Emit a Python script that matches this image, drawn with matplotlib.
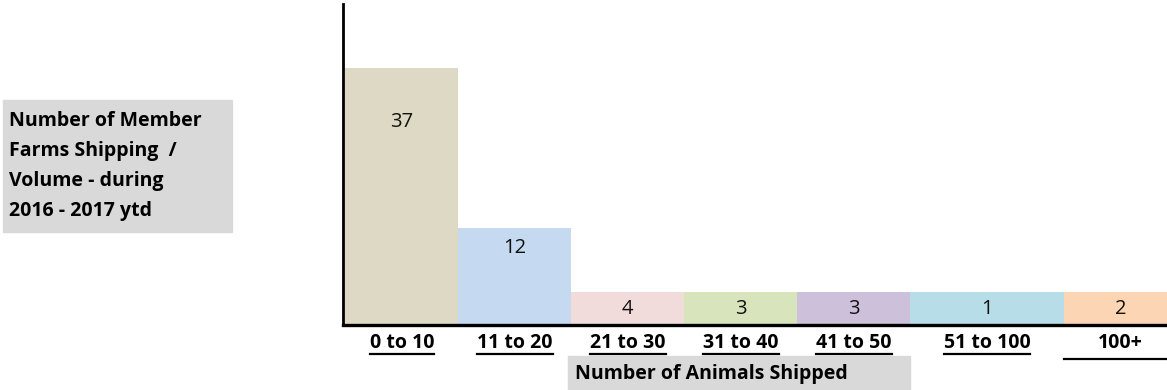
import matplotlib
matplotlib.use("Agg")
import matplotlib.pyplot as plt
from matplotlib.patches import Rectangle
from matplotlib.lines import Line2D

W, H = 1167, 390

ranges = ["0 to 10", "11 to 20", "21 to 30", "31 to 40", "41 to 50", "51 to 100", "100+"]
farms = [37, 12, 4, 3, 3, 1, 2]
# the reference draws the short bars at a common minimum height
bar_heights = [37, 14, 4.75, 4.75, 4.75, 4.75, 4.75]
bar_widths = [1, 1, 1, 1, 1, 1.36, 1]
colors = ["#ddd9c4", "#c5d9f1", "#f2dcdb", "#d8e4bc", "#ccc0da", "#b7dee8", "#fcd5b4"]

side_title = "Number of Member\nFarms Shipping  /\nVolume - during\n2016 - 2017 ytd"
x_title = "Number of Animals Shipped"

plt.rcParams["font.family"] = ["Open Sans", "DejaVu Sans"]

def fx(px):
    return px / W

def fy(py):
    return 1 - py / H

fig = plt.figure(figsize=(W / 100, H / 100), dpi=100)
ax = fig.add_axes([fx(343), fy(325), fx(W - 343), (325 - 4) / H])

lefts = []
pos = 0.02
for w in bar_widths:
    lefts.append(pos)
    pos += w
ax.bar(lefts, bar_heights, width=bar_widths, align="edge", color=colors, linewidth=0)
ax.set_xlim(0, 824 / 113)
ax.set_ylim(0, 37 * 321 / 257)

for s in ["top", "right"]:
    ax.spines[s].set_visible(False)
ax.spines["left"].set_linewidth(2.0)
ax.spines["bottom"].set_linewidth(2.4)
ax.set_xticks([])
ax.set_yticks([])

# value labels
for i, (l, w, h, v) in enumerate(zip(lefts, bar_widths, bar_heights, farms)):
    if i == 0:
        y = h - 7.8
    elif i == 1:
        y = h - 2.9
    else:
        y = h / 2
    ax.text(l + w / 2, y, str(v), ha="center", va="center", fontsize=14.5, color="#111111")

# category labels, bold and underlined
labels = []
for l, w, r in zip(lefts, bar_widths, ranges):
    t = ax.text(l + w / 2, -2.6, r, ha="center", va="center", fontsize=14,
                fontweight="bold", clip_on=False)
    labels.append(t)

# grey boxes
fig.patches.append(Rectangle((fx(3), fy(232)), fx(229), (232 - 100) / H,
                             transform=fig.transFigure, color="#d9d9d9", zorder=0))
fig.text(fx(9), fy(166), side_title, ha="left", va="center", fontsize=14,
         fontweight="bold", linespacing=1.68)

fig.patches.append(Rectangle((fx(568), 0), fx(342), (390 - 356) / H,
                             transform=fig.transFigure, color="#d9d9d9", zorder=0))
fig.text(fx(575), fy(374), x_title, ha="left", va="center", fontsize=14,
         fontweight="bold")

fig.canvas.draw()
r = fig.canvas.get_renderer()
for i, t in enumerate(labels):
    bb = t.get_window_extent(r)
    x0, x1, yl = bb.x0, bb.x1, bb.y0 - 1
    if i == len(labels) - 1:
        # last label is padded in the reference, so its underline spans the bar
        x0 = ax.transData.transform((lefts[i], 0))[0]
        x1 = W
        yl = bb.y0 - 6
    fig.add_artist(Line2D([x0 / W, x1 / W], [yl / H, yl / H],
                          transform=fig.transFigure, color="black", lw=1.6))

fig.savefig("out.png", dpi=100)
